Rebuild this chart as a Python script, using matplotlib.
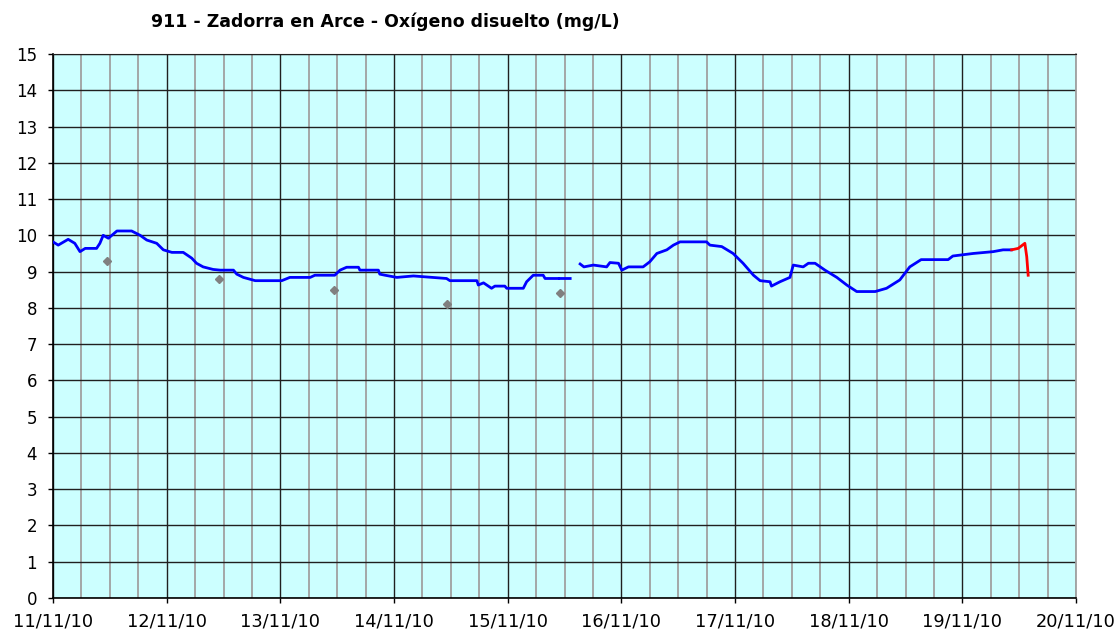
import pandas as pd
import numpy as np
import matplotlib
matplotlib.use("Agg")
import matplotlib.pyplot as plt
import matplotlib.dates as mdates

# hours since 11/11/10 00:00 and dissolved oxygen (mg/L)
blue_h = [0, 1.1, 3.2, 4.6, 5.7, 6.8, 9.2, 9.9, 10.6, 11.7, 13.5, 16.6, 18.4, 19.8,
          21.9, 23.3, 25.1, 27.5, 29.3, 30.3, 31.7, 33.8, 35.3, 38.1, 38.8, 40.2,
          42.7, 48.3, 50.0, 54.3, 55.3, 59.5, 60.6, 62.0, 64.5, 64.8, 68.7, 69.0,
          70.1, 72.6, 76.1, 83.1, 83.8, 89.5, 89.8, 90.9, 92.6, 93.3, 95.4, 95.8,
          99.3, 100.0, 101.4, 103.5, 103.9, 106.7, 106.8, 107.0, 109.2, 109.3,
          111.3, 112.1, 114.1, 116.9, 117.6, 119.4, 120.1, 121.5, 124.6, 126.0,
          127.5, 129.6, 131.0, 132.4, 138.0, 138.7, 141.2, 143.6, 145.7, 147.9,
          149.3, 151.4, 151.7, 153.5, 155.6, 156.3, 158.4, 159.5, 160.9, 163.0,
          165.5, 167.6, 169.7, 173.6, 176.0, 178.8, 180.9, 183.3, 189.0, 190.0,
          194.3, 198.5, 200.6, 202.4]
blue_v = [9.82, 9.73, 9.89, 9.78, 9.55, 9.64, 9.64, 9.78, 10.0, 9.92, 10.12, 10.12,
          10.0, 9.87, 9.78, 9.6, 9.53, 9.53, 9.37, 9.23, 9.13, 9.06, 9.04, 9.04,
          8.93, 8.84, 8.75, 8.75, 8.84, 8.84, 8.9, 8.9, 9.04, 9.12, 9.12, 9.04,
          9.04, 8.93, 8.9, 8.84, 8.88, 8.81, 8.75, 8.75, 8.63, 8.69, 8.54, 8.6,
          8.6, 8.54, 8.54, 8.72, 8.9, 8.9, 8.81, 8.81, np.nan, 8.81, 8.81, np.nan,
          9.21, 9.13, 9.18, 9.13, 9.25, 9.23, 9.04, 9.13, 9.13, 9.27, 9.5, 9.6,
          9.73, 9.82, 9.82, 9.73, 9.69, 9.5, 9.23, 8.9, 8.75, 8.72, 8.6, 8.72,
          8.84, 9.18, 9.13, 9.23, 9.23, 9.04, 8.84, 8.63, 8.45, 8.45, 8.54, 8.77,
          9.13, 9.33, 9.33, 9.43, 9.5, 9.55, 9.6, 9.6]

red_h = [202.4, 203.8, 205.2, 205.6, 205.9]
red_v = [9.6, 9.64, 9.78, 9.41, 8.9]

lab_h = [11.4, 35.1, 59.3, 83.1, 107.0]
lab_v = [9.3, 8.8, 8.5, 8.1, 8.4]

t0 = pd.Timestamp("2010-11-11")
to_dt = lambda h: t0 + pd.to_timedelta(h, unit="h")

fig = plt.figure(figsize=(11.18, 6.3), dpi=100)
ax = fig.add_axes([53 / 1118, 32 / 630, 1023 / 1118, 544 / 630])
ax.set_facecolor("#CCFFFF")

ax.plot(to_dt(blue_h), blue_v, color="#0000FF", lw=2.0, zorder=3)
ax.plot(to_dt(red_h), red_v, color="#FF0000", lw=2.0, zorder=3)
ax.plot(to_dt(lab_h), lab_v, ls="none", marker="D", ms=4, color="#808080", zorder=3)

ax.set_xlim(to_dt(0), to_dt(216))
ax.set_ylim(0, 15)
ax.set_yticks(range(0, 16))

ax.xaxis.set_major_locator(mdates.DayLocator())
ax.xaxis.set_minor_locator(mdates.HourLocator(byhour=[6, 12, 18]))
ax.xaxis.set_major_formatter(mdates.DateFormatter("%d/%m/%y"))

ax.grid(True, which="major", color="#202020", lw=1.0, zorder=1)
ax.grid(True, which="minor", axis="x", color="#A0A0A0", lw=1.3, zorder=0)
ax.set_axisbelow(True)

ax.tick_params(axis="both", which="major", direction="out", length=3.5, width=1,
               color="black", labelsize=12)
ax.tick_params(axis="x", which="major", pad=7, labelsize=12.8)
ax.tick_params(axis="y", which="major", pad=8)
ax.tick_params(axis="x", which="minor", length=0)

for s in ["left", "bottom"]:
    ax.spines[s].set_color("black")
    ax.spines[s].set_linewidth(1.2)
ax.spines["top"].set_color("#202020")
ax.spines["right"].set_color("#A0A0A0")
ax.spines["right"].set_linewidth(1.3)

fig.text(385 / 1118, 1 - 22 / 630, "911 - Zadorra en Arce - Oxígeno disuelto (mg/L)",
         ha="center", va="center", fontsize=12.5, fontweight="bold")

fig.savefig("out.png", dpi=100)
